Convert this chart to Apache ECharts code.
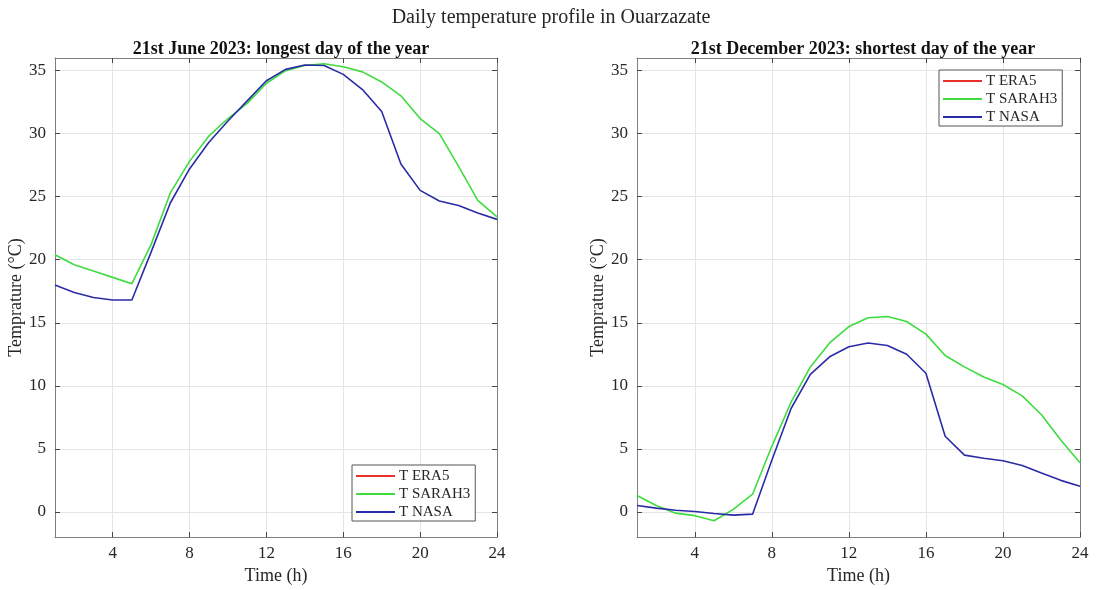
<!DOCTYPE html>
<html>
<head>
<meta charset="utf-8">
<script src="https://cdn.jsdelivr.net/npm/echarts@6/dist/echarts.min.js"></script>
<style>
  html, body { margin: 0; padding: 0; background: #fff; }
  #chart { width: 1096px; height: 590px; }
</style>
</head>
<body>
<div id="chart"></div>
<script>
// Hours of the day
const hours = [1,2,3,4,5,6,7,8,9,10,11,12,13,14,15,16,17,18,19,20,21,22,23,24];
const xTicks = [4, 8, 12, 16, 20, 24];
const yTicks = [0, 5, 10, 15, 20, 25, 30, 35];

// 21 June 2023 (°C)
const juneSarah = [20.4,19.6,19.1,18.6,18.1,21.2,25.3,27.8,29.8,31.2,32.4,34.0,35.0,35.4,35.55,35.3,34.9,34.1,33.0,31.2,30.0,27.4,24.7,23.4];
const juneNasa  = [18.0,17.4,17.0,16.8,16.8,20.6,24.5,27.2,29.3,31.0,32.6,34.2,35.1,35.45,35.4,34.7,33.5,31.75,27.6,25.5,24.66,24.3,23.7,23.2];
const juneEra5  = [];

// 21 December 2023 (°C)
const decSarah = [1.3,0.5,-0.1,-0.3,-0.7,0.2,1.4,5.2,8.7,11.5,13.4,14.7,15.4,15.5,15.1,14.1,12.4,11.5,10.7,10.1,9.2,7.7,5.7,3.9];
const decNasa  = [0.5,0.3,0.13,0.03,-0.13,-0.26,-0.18,4.1,8.2,10.9,12.3,13.1,13.4,13.2,12.5,11.0,6.0,4.5,4.26,4.05,3.68,3.08,2.5,2.04];
const decEra5  = [];

const seriesNames = ['T ERA5', 'T SARAH3', 'T NASA'];
const colors = { 'T ERA5': '#e8302c', 'T SARAH3': '#3fdc3f', 'T NASA': '#2b2ba8' };

const FONT = 'Liberation Serif';
const TXT = '#262626';
const AXC = '#7f7f7f';

const grids = [
  { left: 55, top: 58, width: 442, height: 482 },
  { left: 637, top: 58, width: 443, height: 482 }
];

function xAxes(gi, name) {
  const base = {
    type: 'value', gridIndex: gi, min: 1, max: 24,
    axisLine: { show: true, onZero: false, lineStyle: { color: AXC, width: 1 } },
    axisTick: { show: true, inside: true, length: 5, customValues: xTicks, lineStyle: { color: '#444' } },
  };
  return [
    Object.assign({}, base, {
      position: 'bottom',
      name: name, nameLocation: 'middle', nameGap: 28,
      nameTextStyle: { fontFamily: FONT, fontSize: 18, color: TXT },
      axisLabel: { show: true, customValues: xTicks, fontFamily: FONT, fontSize: 17, color: TXT, margin: 8 },
      splitLine: { show: true, lineStyle: { color: '#e5e5e5', width: 1 } }
    }),
    Object.assign({}, base, {
      position: 'top',
      axisLabel: { show: false, customValues: xTicks },
      splitLine: { show: false }
    })
  ];
}

function yAxes(gi) {
  const base = {
    type: 'value', gridIndex: gi, min: -2, max: 36,
    axisLine: { show: true, onZero: false, lineStyle: { color: AXC, width: 1 } },
    axisTick: { show: true, inside: true, length: 5, customValues: yTicks, lineStyle: { color: '#444' } },
  };
  return [
    Object.assign({}, base, {
      position: 'left',
      name: 'Temprature (°C)', nameLocation: 'middle', nameGap: 27, nameRotate: 90,
      nameTextStyle: { fontFamily: FONT, fontSize: 18, color: TXT },
      axisLabel: { show: true, customValues: yTicks, fontFamily: FONT, fontSize: 17, color: TXT, margin: 9 },
      splitLine: { show: true, lineStyle: { color: '#e5e5e5', width: 1 } }
    }),
    Object.assign({}, base, {
      position: 'right',
      axisLabel: { show: false, customValues: yTicks },
      splitLine: { show: false }
    })
  ];
}

function lineSeries(name, xi, yi, vals) {
  return {
    type: 'line', name: name, xAxisIndex: xi, yAxisIndex: yi,
    data: vals.map((v, i) => [hours[i], v]),
    symbol: 'none', showSymbol: false,
    lineStyle: { color: colors[name], width: 1.6 },
    itemStyle: { color: colors[name] },
    animation: false
  };
}

function legendAt(left, top) {
  return {
    data: seriesNames, orient: 'vertical', left: left, top: top,
    backgroundColor: '#fff', borderColor: '#555', borderWidth: 1,
    padding: [3, 5, 1, 4], itemGap: 2, itemWidth: 39, itemHeight: 2,
    icon: 'rect',
    textStyle: { fontFamily: FONT, fontSize: 15, color: TXT, lineHeight: 16, padding: [0, 0, 0, -1] },
    selectedMode: false
  };
}

const option = {
  backgroundColor: '#fff',
  animation: false,
  title: [
    { text: 'Daily temperature profile in Ouarzazate', left: 546, top: 3, textAlign: 'center',
      textStyle: { fontFamily: FONT, fontSize: 20, fontWeight: 'normal', color: TXT } },
    { text: '21st June 2023: longest day of the year', left: 276, top: 35, textAlign: 'center',
      textStyle: { fontFamily: FONT, fontSize: 18, fontWeight: 'bold', color: '#111' } },
    { text: '21st December 2023: shortest day of the year', left: 858, top: 35, textAlign: 'center',
      textStyle: { fontFamily: FONT, fontSize: 18, fontWeight: 'bold', color: '#111' } }
  ],
  legend: [legendAt(352, 465), legendAt(939, 70)],
  grid: grids,
  xAxis: [...xAxes(0, 'Time (h)'), ...xAxes(1, 'Time (h)')],
  yAxis: [...yAxes(0), ...yAxes(1)],
  series: [
    lineSeries('T ERA5', 0, 0, juneEra5),
    lineSeries('T SARAH3', 0, 0, juneSarah),
    lineSeries('T NASA', 0, 0, juneNasa),
    lineSeries('T ERA5', 2, 2, decEra5),
    lineSeries('T SARAH3', 2, 2, decSarah),
    lineSeries('T NASA', 2, 2, decNasa)
  ]
};

const chart = echarts.init(document.getElementById('chart'), null, { renderer: 'canvas' });
chart.setOption(option);
</script>
</body>
</html>
